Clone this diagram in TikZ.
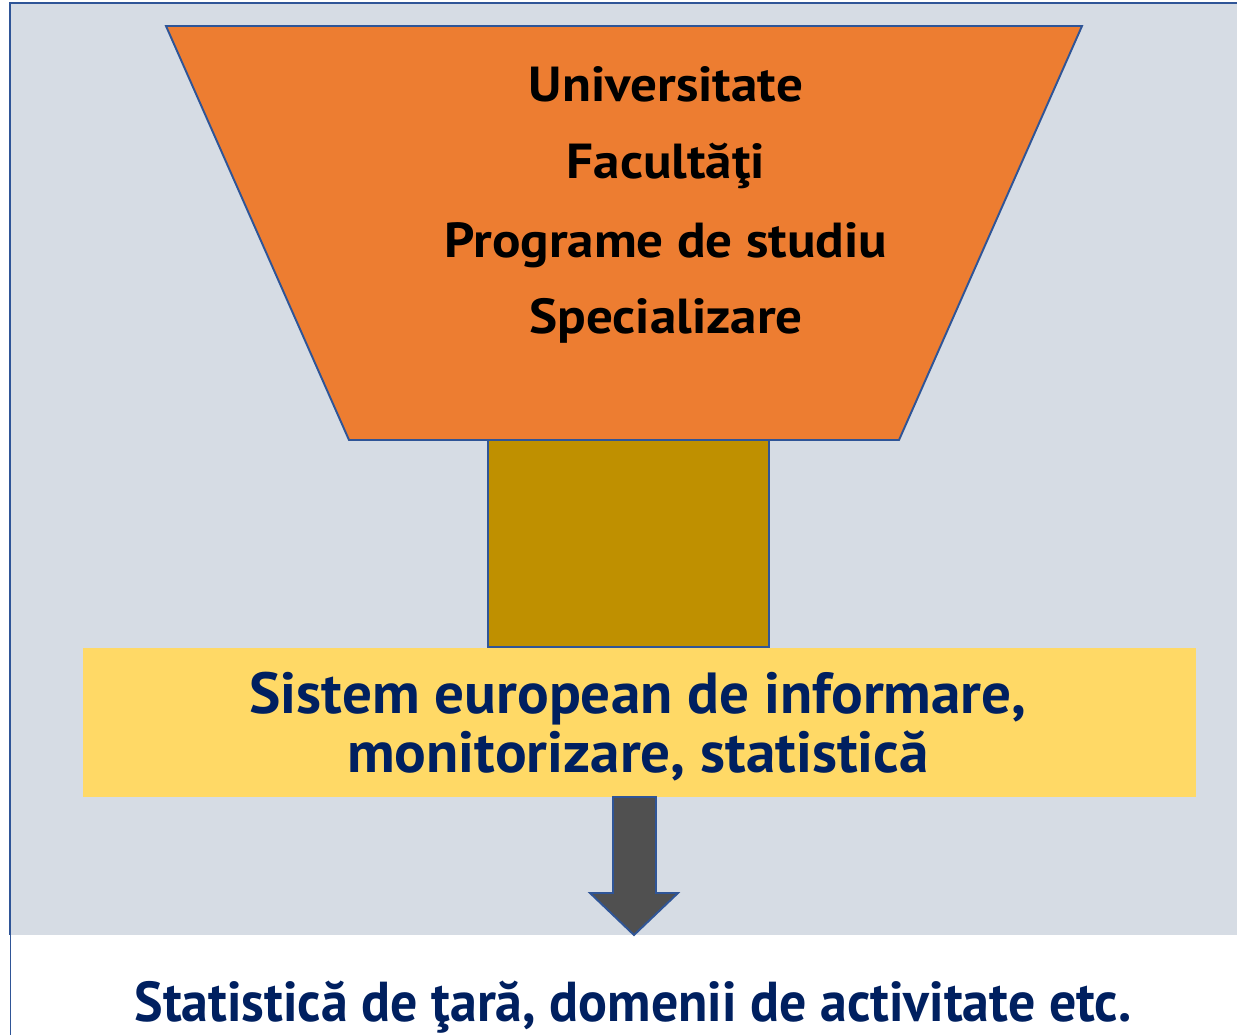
\documentclass[tikz,border=0pt]{standalone}
\usepackage{fontspec}
\setmainfont{PT Sans}
\newfontfamily\levelfont[FakeStretch=1.08]{PT Sans}
\newfontfamily\bandfont[FakeStretch=1.02]{PT Sans}
\newfontfamily\tarafont[FakeStretch=0.958]{PT Sans}
\usepackage{tikz}
\usetikzlibrary{positioning}

\definecolor{SlideGray}{HTML}{D6DCE4}
\definecolor{FrameBlue}{HTML}{2F5597}
\definecolor{Funnel}{HTML}{ED7D31}
\definecolor{Neck}{HTML}{BF9000}
\definecolor{Band}{HTML}{FFD966}
\definecolor{ArrowGray}{HTML}{505050}
\definecolor{Navy}{HTML}{002060}

\begin{document}
\begin{tikzpicture}[x=0.02cm, y=-0.02cm]
			\tikzstyle{Outline}	= [draw=FrameBlue, line width=1.1pt]
			\tikzstyle{Level}	= [anchor=base, inner sep=0pt, text=black, font=\levelfont\bfseries\fontsize{28}{32}\selectfont]
			\tikzstyle{Blue}	= [anchor=base, inner sep=0pt, text=Navy, font=\bandfont\bfseries\fontsize{33}{37}\selectfont]
			\tikzstyle{Bottom}	= [anchor=base, inner sep=0pt, text=Navy, font=\tarafont\bfseries\fontsize{32}{36}\selectfont]

			\useasboundingbox (0,0) rectangle (1237,1035);

			% slide background
			\fill [SlideGray] (10,3) rectangle (1245,935);
			\draw [FrameBlue, line width=1.2pt] (1245,3) -- (10,3) -- (10,935);
			\draw [FrameBlue, line width=0.5pt] (10,935) -- (10,1035);

			% funnel
			\draw [Outline, fill=Funnel] (166,26) -- (1082,26) -- (899,440) -- (349,440) -- cycle;
			\draw [Outline, fill=Neck] (488,440) rectangle (769,647);
			\fill [Band] (83,648) rectangle (1196,797);

			\node (univ) at (666,101) [Level] {Universitate};
			\node (facult) at (666,178) [Level] {Facultăţi};
			\node (programe) at (666,257) [Level] {Programe de studiu};
			\node (special) at (666,333) [Level] {Specializare};

			\node (sistem1) at (638,713) [Blue] {Sistem european de informare,};
			\node (sistem2) at (638,772) [Blue] {monitorizare, statistică};

			% arrow down
			\draw [Outline, fill=ArrowGray] (613,797) -- (656,797) -- (656,893) -- (678,893)
				-- (634,935) -- (590,893) -- (613,893) -- cycle;

			\node (tara) at (633,1021) [Bottom] {Statistică de ţară, domenii de activitate etc.};
		\end{tikzpicture}
\end{document}
